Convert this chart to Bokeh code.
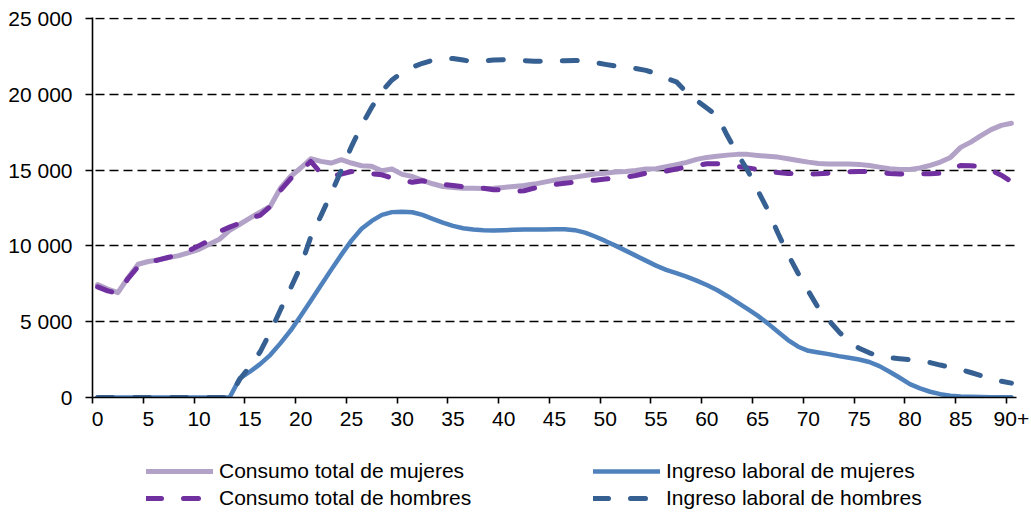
from bokeh.plotting import figure
from bokeh.layouts import column
from bokeh.models import Range1d, FixedTicker, Legend, LegendItem, LinearAxis
from bokeh.embed import file_html
from bokeh.resources import INLINE

# ---------------- data ----------------
ages = list(range(91))
x_tick_values = list(range(0, 91, 5))
x_tick_labels = ["0", "5", "10", "15", "20", "25", "30", "35", "40", "45",
                 "50", "55", "60", "65", "70", "75", "80", "85", "90+"]
y_tick_values = [0, 5000, 10000, 15000, 20000, 25000]
y_tick_labels = ["0", "5 000", "10 000", "15 000", "20 000", "25 000"]

consumo_mujeres = [
    7450, 7150, 6920, 7900, 8790, 8970, 9080, 9230, 9360, 9560,
    9780, 10110, 10440, 11020, 11430, 11830, 12230, 12600, 13810, 14580,
    15140, 15750, 15580, 15470, 15690, 15470, 15290, 15250, 14960, 15070,
    14720, 14580, 14320, 14100, 13920, 13860, 13810, 13810, 13790, 13810,
    13860, 13920, 13990, 14080, 14210, 14340, 14450, 14540, 14650, 14740,
    14800, 14870, 14910, 14980, 15070, 15090, 15220, 15360, 15510, 15710,
    15840, 15910, 15990, 16040, 16040, 15970, 15910, 15860, 15750, 15640,
    15530, 15440, 15400, 15400, 15400, 15380, 15310, 15200, 15090, 15050,
    15050, 15140, 15310, 15530, 15840, 16500, 16850, 17270, 17670, 17950,
    18090]

consumo_hombres = [
    7300, 7030, 6870, 7850, 8640, 8920, 9080, 9250, 9410, 9690,
    10020, 10350, 10950, 11240, 11500, 11830, 12020, 12600, 13650, 14430,
    14950, 15580, 14800, 14580, 14740, 14910, 14800, 14760, 14690, 14470,
    14350, 14200, 14300, 14150, 14050, 13990, 13900, 13850, 13810, 13700,
    13700, 13600, 13640, 13810, 13920, 14060, 14140, 14210, 14280, 14340,
    14410, 14470, 14540, 14650, 14800, 14850, 14940, 15070, 15200, 15310,
    15420, 15420, 15350, 15250, 15150, 15050, 14900, 14850, 14780, 14760,
    14740, 14760, 14800, 14850, 14900, 14910, 14900, 14850, 14780, 14750,
    14740, 14750, 14760, 14800, 15000, 15310, 15290, 15230, 15000, 14670,
    14250]

ingreso_mujeres = [
    0, 0, 0, 0, 0, 0, 0, 0, 0, 0,
    0, 0, 0, 0, 1260, 1700, 2200, 2800, 3570, 4410,
    5380, 6390, 7400, 8420, 9410, 10350, 11130, 11650, 12050, 12230,
    12260, 12220, 12050, 11790, 11540, 11320, 11170, 11080, 11040, 11020,
    11040, 11060, 11080, 11080, 11080, 11100, 11100, 11040, 10880, 10620,
    10330, 10020, 9690, 9360, 9030, 8700, 8420, 8200, 7980, 7710,
    7420, 7090, 6700, 6280, 5840, 5400, 4890, 4340, 3790, 3350,
    3080, 2970, 2860, 2730, 2620, 2510, 2340, 2070, 1700, 1300,
    880, 600, 380, 220, 110, 65, 45, 30, 20, 15,
    10]

ingreso_hombres = [
    0, 0, 0, 0, 0, 0, 0, 0, 0, 0,
    0, 0, 0, 0, 1200, 2050, 3000, 4300, 5770, 7200,
    8650, 10600, 12000, 13450, 14980, 16550, 17950, 19150, 20200, 20950,
    21450, 21800, 22050, 22250, 22350, 22360, 22260, 22150, 22200, 22260,
    22280, 22250, 22220, 22190, 22180, 22190, 22220, 22240, 22200, 22100,
    21980, 21870, 21780, 21700, 21580, 21380, 21050, 20830, 20130, 19600,
    19100, 18600, 17300, 16100, 15000, 13690, 12380, 10850, 9440, 8180,
    7020, 5890, 5100, 4340, 3700, 3250, 2950, 2700, 2620, 2560,
    2490, 2400, 2300, 2140, 2000, 1850, 1650, 1440, 1250, 1080,
    950]

series_labels = ["Consumo total de mujeres", "Consumo total de hombres",
                 "Ingreso laboral de mujeres", "Ingreso laboral de hombres"]
series_colors = ["#B3A2C7", "#7030A0", "#4F81BD", "#366092"]
series_widths = [5, 5, 4.5, 5]
series_dashes = ["solid", "15 22", "solid", "15 22"]
series_values = [consumo_mujeres, consumo_hombres, ingreso_mujeres, ingreso_hombres]

# ---------------- chart figure ----------------
FONT = "Liberation Sans"
BLACK = "black"

p = figure(width=1030, height=440, output_backend="svg", toolbar_location=None,
           x_range=Range1d(-0.5, 90.5), y_range=Range1d(0, 25070),
           min_border_left=92, min_border_right=14, min_border_top=17,
           min_border_bottom=43)
p.outline_line_color = None
p.background_fill_color = "white"
p.border_fill_color = "white"

# horizontal dashed grid
p.xgrid.visible = False
p.ygrid.ticker = FixedTicker(ticks=y_tick_values)
p.ygrid.grid_line_color = BLACK
p.ygrid.grid_line_width = 1.6
p.ygrid.grid_line_dash = "9 5"
p.ygrid.grid_line_dash_offset = 11

# x axis 1: axis line + tick marks at category boundaries
xa = p.xaxis[0]
xa.ticker = FixedTicker(ticks=[v - 0.5 for v in x_tick_values])
xa.major_tick_out = 6
xa.major_tick_in = 0
xa.minor_tick_out = 0
xa.minor_tick_in = 0
xa.major_tick_line_color = BLACK
xa.major_tick_line_width = 1.6
xa.axis_line_color = BLACK
xa.axis_line_width = 1.6
xa.major_label_standoff = 0
xa.major_label_text_font_size = "1px"
xa.major_label_text_alpha = 0

# x axis 2: category labels at category centres
xb = LinearAxis(ticker=FixedTicker(ticks=x_tick_values))
xb.major_label_overrides = {v: lab for v, lab in zip(x_tick_values, x_tick_labels)}
xb.axis_line_color = None
xb.major_tick_out = 0
xb.major_tick_in = 0
xb.minor_tick_out = 0
xb.minor_tick_in = 0
xb.major_label_standoff = 8
xb.major_label_text_font = FONT
xb.major_label_text_font_size = "21px"
xb.major_label_text_color = BLACK
p.add_layout(xb, "below")

ya = p.yaxis[0]
ya.ticker = FixedTicker(ticks=y_tick_values)
ya.major_label_overrides = {v: lab for v, lab in zip(y_tick_values, y_tick_labels)}
ya.major_tick_out = 7
ya.major_tick_in = 0
ya.minor_tick_out = 0
ya.minor_tick_in = 0
ya.major_tick_line_color = BLACK
ya.major_tick_line_width = 1.6
ya.axis_line_color = BLACK
ya.axis_line_width = 1.6
ya.major_label_standoff = 13
ya.major_label_text_font = FONT
ya.major_label_text_font_size = "21px"
ya.major_label_text_color = BLACK

for vals, col, w, d in zip(series_values, series_colors, series_widths, series_dashes):
    p.line(ages, vals, line_color=col, line_width=w, line_dash=d,
           line_join="round", line_cap="round")

# ---------------- legend strip (separate figure under the chart) ----------------
# its ranges lie outside the data, so its line renderers only feed the legend
pl = figure(width=1030, height=72, output_backend="svg", toolbar_location=None,
            x_axis_location=None, y_axis_location=None,
            x_range=Range1d(-3, -2), y_range=Range1d(-3, -2),
            min_border=0, min_border_left=0, min_border_right=0,
            min_border_top=0, min_border_bottom=0)
pl.outline_line_color = None
pl.background_fill_color = "white"
pl.border_fill_color = "white"
pl.xgrid.visible = False
pl.ygrid.visible = False

legend_renderers = []
for vals, col, w, d in zip(series_values, series_colors, series_widths, series_dashes):
    legend_renderers.append(pl.line(ages, vals, line_color=col, line_width=w,
                                    line_dash=d, line_join="round", line_cap="round"))


def make_legend(idx, loc):
    items = [LegendItem(label=series_labels[i], renderers=[legend_renderers[i]])
             for i in idx]
    return Legend(items=items, location=loc, orientation="vertical",
                  label_text_font=FONT, label_text_font_size="21px",
                  label_text_color=BLACK, glyph_width=67, glyph_height=24,
                  label_height=24, label_standoff=6, spacing=3, padding=0,
                  margin=0, border_line_color=None, background_fill_alpha=0)


# the strip's frame is aligned with the chart's frame (left edge at 92 px)
pl.add_layout(make_legend([0, 1], (54, 2)))
pl.add_layout(make_legend([2, 3], (501, 2)))

layout = column(p, pl, spacing=0)
open("out.html", "w").write(file_html(layout, INLINE))
